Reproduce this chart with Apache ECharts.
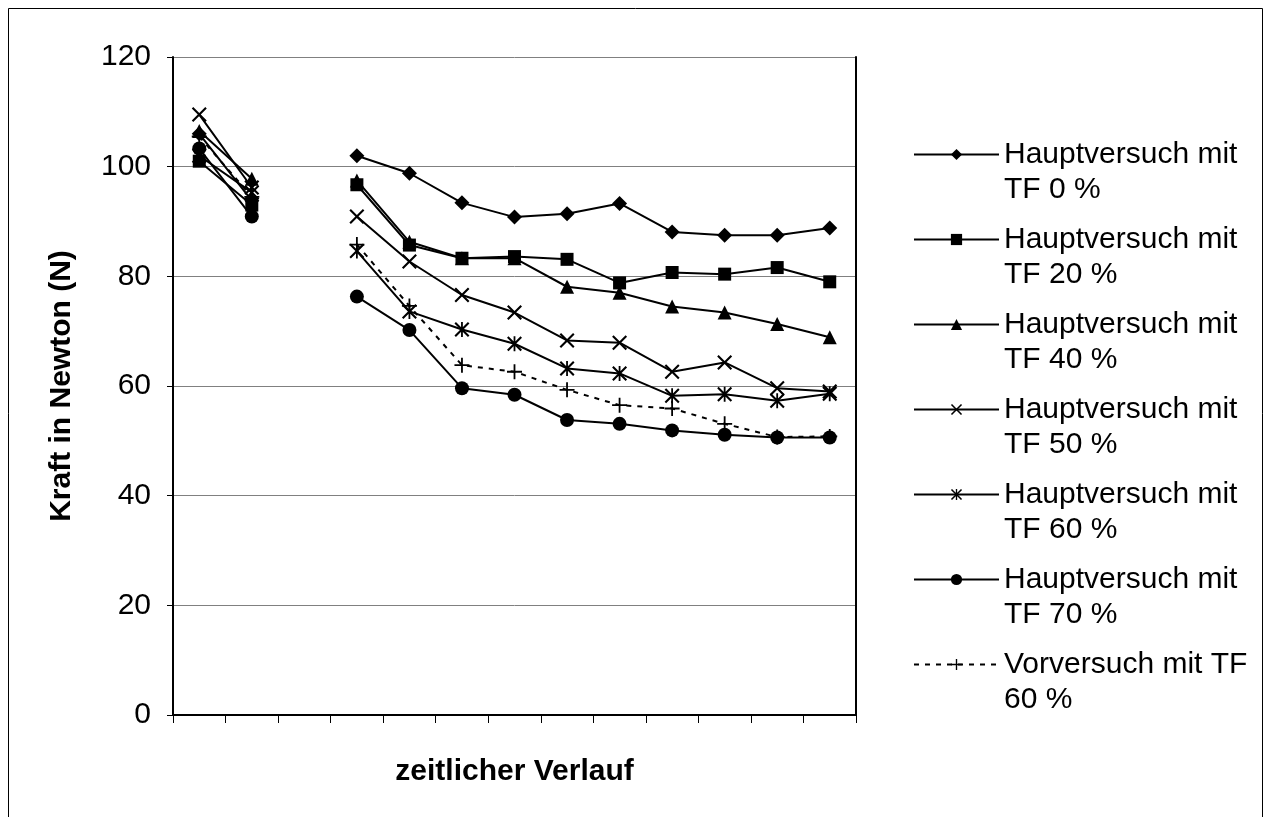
<!DOCTYPE html>
<html>
<head>
<meta charset="utf-8">
<script src="https://cdn.jsdelivr.net/npm/echarts@6/dist/echarts.min.js"></script>
<style>
  html, body { margin: 0; padding: 0; background: #fff; }
  #chart { width: 1271px; height: 817px; }
</style>
</head>
<body>
<div id="chart"></div>
<script>
// Measurement points along the time course (index 2 has no measurement)
const categories = ['t1', 't2', 't3', 't4', 't5', 't6', 't7', 't8', 't9', 't10', 't11', 't12', 't13'];

// Force in Newton for each trial series
const tf0   = [106.0, 93.8, null, 102.0, 98.8, 93.4, 90.8, 91.4, 93.3, 88.1, 87.5, 87.5, 88.8];
const tf20  = [101.0, 93.0, null, 96.7, 85.7, 83.3, 83.6, 83.1, 78.8, 80.7, 80.4, 81.6, 79.0];
const tf40  = [106.5, 97.8, null, 97.5, 86.3, 83.3, 83.3, 78.1, 77.0, 74.5, 73.4, 71.3, 68.9];
const tf50  = [109.5, 96.2, null, 90.9, 82.7, 76.6, 73.4, 68.3, 67.9, 62.6, 64.3, 59.6, 59.0];
const tf60  = [102.0, 95.3, null, 84.6, 73.6, 70.3, 67.7, 63.2, 62.3, 58.2, 58.5, 57.3, 58.6];
const tf70  = [103.3, 90.9, null, 76.3, 70.2, 59.6, 58.4, 53.8, 53.1, 51.9, 51.1, 50.6, 50.6];
const vor60 = [105.5, 94.5, null, 85.8, 74.6, 63.8, 62.6, 59.3, 56.5, 55.9, 53.1, 50.7, 50.8];

const seriesNames = [
  'Hauptversuch mit\nTF 0 %',
  'Hauptversuch mit\nTF 20 %',
  'Hauptversuch mit\nTF 40 %',
  'Hauptversuch mit\nTF 50 %',
  'Hauptversuch mit\nTF 60 %',
  'Hauptversuch mit\nTF 70 %',
  'Vorversuch mit TF\n60 %'
];

const yTicks = { min: 0, max: 120, step: 20 };
const xAxisTitle = 'zeitlicher Verlauf';
const yAxisTitle = 'Kraft in Newton (N)';

// Marker shapes drawn as filled outlines
const SYM_X = 'path://M0,2 L2,0 L10,8 L18,0 L20,2 L12,10 L20,18 L18,20 L10,12 L2,20 L0,18 L8,10 Z';
const SYM_STAR = 'path://M0,2 L2,0 L10,8 L18,0 L20,2 L12,10 L20,18 L18,20 L10,12 L2,20 L0,18 L8,10 Z M8.8,0 L11.2,0 L11.2,20 L8.8,20 Z';
const SYM_PLUS = 'path://M8.8,0 L11.2,0 L11.2,8.8 L20,8.8 L20,11.2 L11.2,11.2 L11.2,20 L8.8,20 L8.8,11.2 L0,11.2 L0,8.8 L8.8,8.8 Z';

const FONT = '"Liberation Sans", Arial, sans-serif';

function lineSeries(name, data, symbol, size, dashed) {
  return {
    name: name,
    type: 'line',
    data: data,
    symbol: symbol,
    symbolSize: size,
    showSymbol: true,
    connectNulls: false,
    color: '#000',
    itemStyle: { color: '#000' },
    lineStyle: { color: '#000', width: 2, type: dashed ? [5, 6] : 'solid' },
    emphasis: { disabled: true }
  };
}

const chart = echarts.init(document.getElementById('chart'), null, { renderer: 'canvas' });

chart.setOption({
  animation: false,
  backgroundColor: '#fff',
  textStyle: { fontFamily: FONT, color: '#000' },
  graphic: [{
    type: 'rect',
    silent: true,
    z: -10,
    shape: { x: 8.5, y: 8.5, width: 1254, height: 900 },
    style: { fill: 'none', stroke: '#000', lineWidth: 1 }
  }],
  grid: { left: 173, top: 57, width: 683, height: 658 },
  xAxis: {
    type: 'category',
    data: categories,
    boundaryGap: true,
    name: xAxisTitle,
    nameLocation: 'middle',
    nameGap: 42,
    nameTextStyle: { fontSize: 30, fontWeight: 'bold', color: '#000', fontFamily: FONT },
    axisLine: { lineStyle: { color: '#000', width: 2 } },
    axisTick: { show: true, interval: 0, length: 8, lineStyle: { color: '#000', width: 1 } },
    axisLabel: { show: false },
    splitLine: { show: false }
  },
  yAxis: [{
    type: 'value',
    min: yTicks.min,
    max: yTicks.max,
    interval: yTicks.step,
    name: yAxisTitle,
    nameLocation: 'middle',
    nameGap: 96,
    nameTextStyle: { fontSize: 30, fontWeight: 'bold', color: '#000', fontFamily: FONT },
    axisLine: { show: true, lineStyle: { color: '#000', width: 2 } },
    axisTick: { show: true, length: 6, lineStyle: { color: '#000', width: 1 } },
    axisLabel: { fontSize: 30, color: '#000', margin: 22, fontFamily: FONT },
    splitLine: { show: true, lineStyle: { color: '#808080', width: 1 } }
  }, {
    type: 'value',
    position: 'right',
    min: yTicks.min,
    max: yTicks.max,
    interval: yTicks.step,
    axisLine: { show: true, lineStyle: { color: '#000', width: 2 } },
    axisTick: { show: false },
    axisLabel: { show: false },
    splitLine: { show: false }
  }],
  legend: {
    orient: 'vertical',
    left: 913,
    top: 102,
    padding: 0,
    itemWidth: 85,
    itemHeight: 14,
    itemGap: -20,
    selectedMode: false,
    data: seriesNames,
    formatter: function (n) { return '\n' + n; },
    textStyle: { fontSize: 30, lineHeight: 35, color: '#000', fontFamily: FONT }
  },
  series: [
    lineSeries(seriesNames[0], tf0, 'diamond', 15, false),
    lineSeries(seriesNames[1], tf20, 'rect', 13, false),
    lineSeries(seriesNames[2], tf40, 'triangle', 14, false),
    lineSeries(seriesNames[3], tf50, SYM_X, 15, false),
    lineSeries(seriesNames[4], tf60, SYM_STAR, 15, false),
    lineSeries(seriesNames[5], tf70, 'circle', 14, false),
    lineSeries(seriesNames[6], vor60, SYM_PLUS, 15, true)
  ]
});
</script>
</body>
</html>
